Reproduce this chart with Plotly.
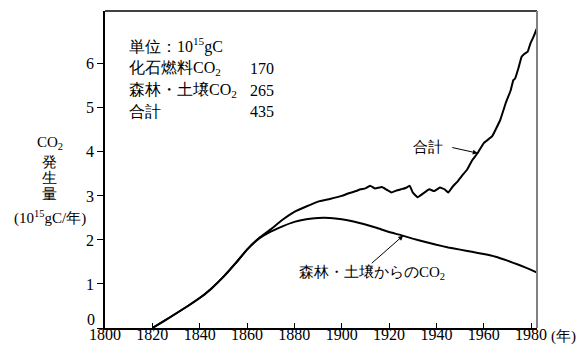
import plotly.graph_objects as go

# ---- data ----
forest_years = [1820, 1825, 1830, 1835, 1840, 1845, 1850, 1855, 1860, 1865, 1870, 1875,
                1880, 1885, 1890, 1895, 1900, 1905, 1910, 1915, 1920, 1925, 1930, 1935,
                1940, 1945, 1950, 1955, 1960, 1965, 1970, 1975, 1980, 1982.5]
forest_vals = [0.0, 0.16, 0.33, 0.50, 0.68, 0.90, 1.16, 1.46, 1.78, 2.03, 2.19, 2.31,
               2.41, 2.47, 2.50, 2.50, 2.47, 2.42, 2.35, 2.27, 2.18, 2.11, 2.03, 1.96,
               1.89, 1.83, 1.78, 1.73, 1.68, 1.62, 1.53, 1.43, 1.32, 1.26]

total_years = [1820, 1825, 1830, 1835, 1840, 1845, 1850, 1855, 1860, 1865, 1870, 1875,
               1880, 1885, 1890, 1895, 1900, 1903, 1906, 1908, 1910, 1912, 1914, 1917,
               1919, 1921, 1923, 1925, 1927, 1928.7, 1930, 1932, 1934, 1937, 1939,
               1941.5, 1943.5, 1945, 1947, 1949, 1951, 1953, 1955, 1957.5, 1960, 1963.5,
               1967, 1969.3, 1971.4, 1972.5, 1973.2, 1974.8, 1976, 1977, 1978.5, 1979.7,
               1981, 1982.4]
total_vals = [0.0, 0.16, 0.33, 0.50, 0.68, 0.90, 1.16, 1.46, 1.78, 2.04, 2.24, 2.46,
              2.64, 2.76, 2.87, 2.93, 3.00, 3.06, 3.11, 3.15, 3.17, 3.23, 3.17, 3.20,
              3.14, 3.08, 3.12, 3.15, 3.18, 3.23, 3.08, 2.97, 3.04, 3.15, 3.11,
              3.19, 3.15, 3.08, 3.22, 3.33, 3.47, 3.60, 3.80, 3.98, 4.20, 4.35,
              4.73, 5.11, 5.40, 5.63, 5.66, 5.93, 6.16, 6.22, 6.27, 6.46,
              6.61, 6.80]

x_ticks = [1800, 1820, 1840, 1860, 1880, 1900, 1920, 1940, 1960, 1980]
y_ticks = [0, 1, 2, 3, 4, 5, 6]

table_names = ["化石燃料CO<sub>2</sub>", "森林・土壌CO<sub>2</sub>", "合計"]
table_values = ["170", "265", "435"]

FONT = "Liberation Serif, Times New Roman, serif"

fig = go.Figure()
fig.add_trace(go.Scatter(x=forest_years, y=forest_vals, mode="lines",
                         line=dict(color="black", width=2, shape="spline", smoothing=0.3),
                         showlegend=False, hoverinfo="skip"))
fig.add_trace(go.Scatter(x=total_years, y=total_vals, mode="lines",
                         line=dict(color="black", width=2, shape="spline", smoothing=0.3),
                         showlegend=False, hoverinfo="skip"))

W, H = 587, 346
L, R, T, B = 105, 50, 11, 18
pw, ph = W - L - R, H - T - B

def px(xp):
    return (xp - L) / pw

def py(yp):
    return (H - B - yp) / ph

# the "0" label sits a little above its tick in the reference; drawn separately
y_ticktext = ["" if v == 0 else str(v) for v in y_ticks]

fig.update_layout(
    width=W, height=H,
    margin=dict(l=L, r=R, t=T, b=B, pad=0, autoexpand=False),
    paper_bgcolor="white", plot_bgcolor="white",
    font=dict(family=FONT, size=15, color="black"),
    xaxis=dict(range=[1800, 1982.5], tickvals=x_ticks, ticktext=[str(v) for v in x_ticks],
               automargin=False, ticklabelstandoff=-9,
               showgrid=False, zeroline=False, showline=True, linecolor="black", linewidth=1.5,
               ticks="inside", ticklen=5, tickcolor="black", tickwidth=1,
               tickfont=dict(family=FONT, size=16)),
    yaxis=dict(range=[0, 7.2], tickvals=y_ticks, ticktext=y_ticktext,
               automargin=False,
               showgrid=False, zeroline=False, showline=True, linecolor="black", linewidth=1.5,
               ticks="outside", ticklen=6, tickcolor="black", tickwidth=1,
               tickfont=dict(family=FONT, size=16)),
    shapes=[
        dict(type="line", xref="paper", yref="paper", x0=0, x1=1, y0=1, y1=1,
             line=dict(color="black", width=1.5)),
        dict(type="line", xref="paper", yref="paper", x0=1, x1=1, y0=0, y1=1,
             line=dict(color="#808080", width=2)),
    ],
)

ann = []
ann.append(dict(text=str(y_ticks[0]), xref="paper", yref="paper", x=px(97), y=py(319),
                xanchor="right", yanchor="middle", showarrow=False,
                font=dict(family=FONT, size=16)))
# y-axis title (stacked)
for text, yp in [("CO<sub>2</sub>", 143), ("発", 162), ("生", 178), ("量", 194),
                 ("(10<sup>15</sup>gC/年)", 217)]:
    ann.append(dict(text=text, xref="paper", yref="paper", x=px(50), y=py(yp),
                    xanchor="center", yanchor="middle", showarrow=False,
                    font=dict(family=FONT, size=15)))
# x unit
ann.append(dict(text="(年)", xref="paper", yref="paper", x=px(549), y=py(336),
                xanchor="left", yanchor="middle", showarrow=False,
                font=dict(family=FONT, size=15)))
# info block
ann.append(dict(text="単位：10<sup>15</sup>gC", xref="paper", yref="paper", x=px(127), y=py(45),
                xanchor="left", yanchor="middle", showarrow=False, font=dict(family=FONT, size=16)))
for name, val, yp in zip(table_names, table_values, [68, 90, 111]):
    ann.append(dict(text=name, xref="paper", yref="paper", x=px(127), y=py(yp),
                    xanchor="left", yanchor="middle", showarrow=False,
                    font=dict(family=FONT, size=16)))
    ann.append(dict(text=val, xref="paper", yref="paper", x=px(276), y=py(yp),
                    xanchor="right", yanchor="middle", showarrow=False,
                    font=dict(family=FONT, size=16)))
# curve labels
ann.append(dict(text="合計", xref="paper", yref="paper", x=px(428), y=py(147),
                xanchor="center", yanchor="middle", showarrow=False,
                font=dict(family=FONT, size=15)))
ann.append(dict(text="", x=1957.5, y=3.97, xref="x", yref="y", showarrow=True,
                ax=-27, ay=-6, arrowhead=2, arrowsize=1, arrowwidth=1, arrowcolor="black"))
ann.append(dict(text="森林・土壌からのCO<sub>2</sub>", xref="paper", yref="paper", x=px(372), y=py(273),
                xanchor="center", yanchor="middle", showarrow=False,
                font=dict(family=FONT, size=15)))
ann.append(dict(text="", x=1926, y=2.1, xref="x", yref="y", showarrow=True,
                ax=-33, ay=29, arrowhead=2, arrowsize=1, arrowwidth=1, arrowcolor="black"))
fig.update_layout(annotations=ann)

fig.write_html("out.html", config={"displayModeBar": False},
               post_script="document.body.style.margin='0';")
